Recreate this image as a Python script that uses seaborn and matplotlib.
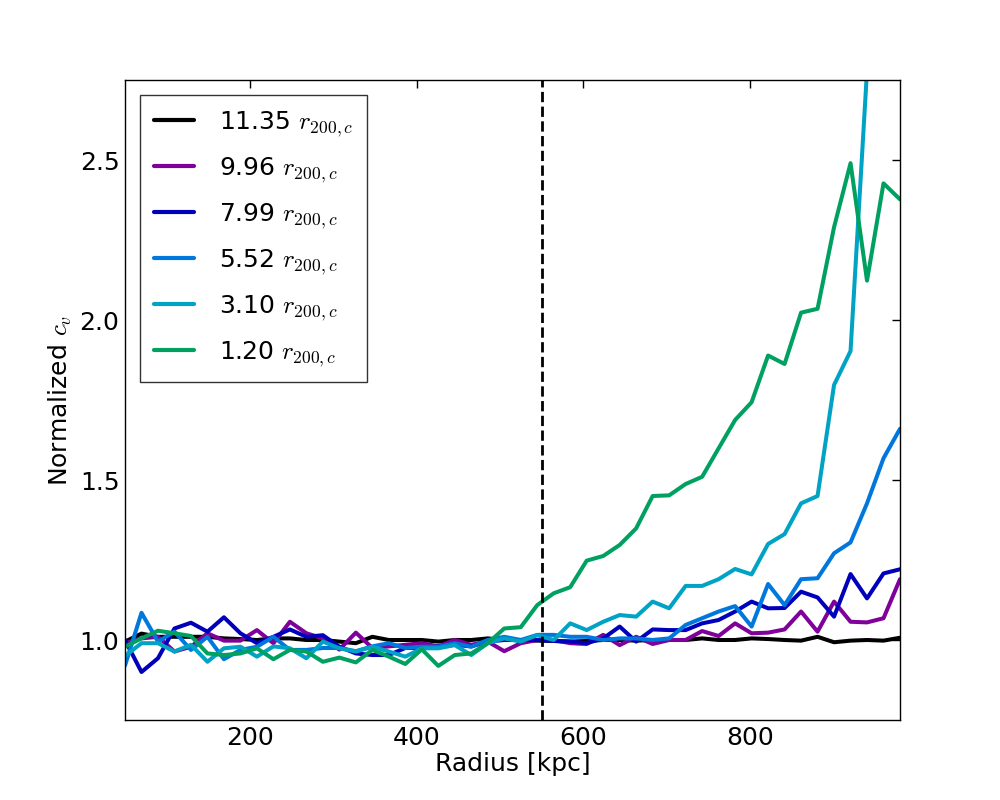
import matplotlib
matplotlib.use("Agg")
import matplotlib.pyplot as plt
import numpy as np
import pandas as pd
import seaborn as sns


# radius bins (kpc), evenly spaced from 50 to 980
radius = np.linspace(50, 980, 48)

labels = [
    r"11.35 $r_{200,c}$",
    r"9.96 $r_{200,c}$",
    r"7.99 $r_{200,c}$",
    r"5.52 $r_{200,c}$",
    r"3.10 $r_{200,c}$",
    r"1.20 $r_{200,c}$",
]
colors = ["#000000", "#80009a", "#0000bb", "#0077dd", "#00a3c4", "#00a060"]

cv_1135 = [0.995, 1.02, 1.01, 1.01, 1.01, 1.01, 1.005, 1.003, 1.0, 1.005,
           1.005, 1.0, 1.0, 0.995, 0.99, 1.01, 1.0, 1.0, 1.0, 0.995,
           1.0, 1.0, 1.005, 1.0, 1.0, 0.998, 0.997, 0.995, 0.997, 1.0,
           1.0, 0.998, 1.0, 1.0, 1.0, 1.005, 1.0, 1.0, 1.005, 1.003,
           1.0, 0.998, 1.01, 0.993, 0.998, 1.0, 0.998, 1.007]
cv_996 = [0.99, 1.005, 1.01, 0.964, 0.979, 1.021, 0.998, 0.998, 1.031, 0.99,
          1.057, 1.021, 1.005, 0.97, 1.023, 0.975, 0.98, 0.985, 0.99, 0.98,
          1.0, 0.985, 0.995, 0.965, 0.99, 1.0, 1.0, 0.99, 0.9875, 1.016,
          0.984, 1.01, 0.9875, 1.0, 1.0, 1.028, 1.0125, 1.052, 1.021, 1.023,
          1.033, 1.089, 1.026, 1.12, 1.057, 1.055, 1.068, 1.19]
cv_799 = [1.0, 0.9, 0.943, 1.036, 1.054, 1.026, 1.071, 1.021, 0.99, 1.01,
          1.033, 1.01, 1.015, 0.979, 0.958, 0.953, 0.953, 0.975, 0.975, 0.98,
          0.985, 0.98, 0.995, 1.0, 1.0, 1.0, 0.997, 0.995, 0.99, 1.005,
          1.042, 0.995, 1.033, 1.031, 1.031, 1.052, 1.0625, 1.089, 1.12, 1.099,
          1.1, 1.151, 1.133, 1.073, 1.206, 1.13, 1.208, 1.221]
cv_552 = [0.92, 1.085, 0.995, 1.026, 0.969, 1.01, 0.94, 0.969, 0.979, 1.01,
          0.969, 0.969, 0.975, 0.975, 0.965, 0.98, 0.99, 0.975, 0.979, 0.979,
          0.99, 0.979, 1.0, 1.01, 1.0, 1.016, 1.016, 1.01, 1.01, 1.0,
          1.005, 1.005, 1.0, 1.005, 1.047, 1.068, 1.089, 1.106, 1.042, 1.175,
          1.109, 1.19, 1.193, 1.271, 1.305, 1.427, 1.568, 1.66]
cv_310 = [0.95, 0.99, 0.99, 0.964, 0.985, 0.932, 0.974, 0.979, 0.948, 0.98,
          0.974, 0.943, 0.995, 0.974, 0.964, 0.979, 0.964, 0.948, 0.974, 0.974,
          0.984, 0.953, 0.99, 1.005, 0.995, 1.015, 1.0, 1.052, 1.031, 1.057,
          1.078, 1.073, 1.12, 1.099, 1.169, 1.169, 1.19, 1.222, 1.205, 1.3,
          1.331, 1.427, 1.45, 1.797, 1.903, 2.78, 3.1, 3.3]
cv_120 = [0.979, 1.005, 1.029, 1.021, 1.0125, 0.958, 0.953, 0.958, 0.974, 0.94,
          0.969, 0.964, 0.932, 0.945, 0.93, 0.969, 0.948, 0.925, 0.971, 0.919,
          0.953, 0.958, 0.99, 1.036, 1.04, 1.109, 1.146, 1.165, 1.248, 1.2625,
          1.297, 1.349, 1.45, 1.452, 1.4875, 1.51, 1.599, 1.6875, 1.743, 1.889,
          1.8625, 2.023, 2.035, 2.29, 2.49, 2.123, 2.427, 2.377]

series = [cv_1135, cv_996, cv_799, cv_552, cv_310, cv_120]

frames = []
for label, values in zip(labels, series):
    frames.append(pd.DataFrame({"radius": radius, "cv": values, "shell": label}))
df = pd.concat(frames, ignore_index=True)

sns.set_style("white")
plt.rcParams["font.family"] = ["DejaVu Sans"]
plt.rcParams["mathtext.fontset"] = "cm"
plt.rcParams["font.size"] = 18
plt.rcParams["text.color"] = "black"
plt.rcParams["axes.labelcolor"] = "black"
plt.rcParams["xtick.color"] = "black"
plt.rcParams["ytick.color"] = "black"

fig = plt.figure(figsize=(10, 8), dpi=100)
ax = fig.add_axes([0.125, 0.1, 0.775, 0.8])

sns.lineplot(
    data=df,
    x="radius",
    y="cv",
    hue="shell",
    hue_order=labels,
    palette=dict(zip(labels, colors)),
    linewidth=2.9,
    errorbar=None,
    sort=False,
    ax=ax,
)

ax.axvline(550, color="black", linestyle="--", linewidth=2)

ax.set_xlim(50, 980)
ax.set_ylim(0.75, 2.75)
ax.set_xticks([200, 400, 600, 800])
ax.set_yticks([1.0, 1.5, 2.0, 2.5])
ax.tick_params(direction="in", top=True, right=True, length=6, width=1,
               labelsize=18, colors="black", pad=4)
for spine in ax.spines.values():
    spine.set_color("black")
    spine.set_linewidth(1)

ax.set_xlabel("Radius [kpc]", fontsize=18, labelpad=2)
ax.set_ylabel(r"Normalized $c_v$", fontsize=18)

leg = ax.legend(loc="upper left", fontsize=18, frameon=True, fancybox=False,
                handlelength=1.6, handletextpad=1.0, labelspacing=0.65,
                borderpad=0.55, borderaxespad=0.6)
leg.get_frame().set_edgecolor("black")
leg.get_frame().set_linewidth(1)
for line in leg.get_lines():
    line.set_linewidth(3)

fig.savefig("out.png", dpi=100, facecolor="white")
